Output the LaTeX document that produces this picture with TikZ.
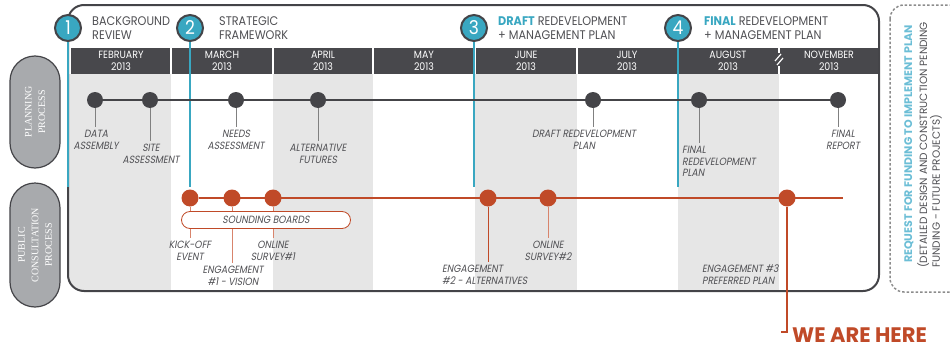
\documentclass[tikz,border=0pt]{standalone}
\usepackage{fontspec}
\setmainfont{Poppins}[FakeStretch=0.9]
\newfontfamily\eventFont{Poppins}[FakeStretch=0.88, FakeSlant=0.18]
\newfontfamily\wideFont{Poppins}
\newfontfamily\pillFont{Liberation Serif}
\usetikzlibrary{positioning}
\definecolor{headerColor}{RGB}{72,72,76}
\definecolor{shadeColor}{RGB}{230,230,230}
\definecolor{tealColor}{RGB}{57,167,193}
\definecolor{lightTeal}{RGB}{108,190,214}
\definecolor{orangeColor}{RGB}{192,74,40}
\definecolor{stemOrange}{RGB}{216,132,108}
\definecolor{textGray}{RGB}{80,80,84}
\definecolor{pillGray}{RGB}{168,170,173}
\definecolor{frameColor}{RGB}{68,68,72}
\definecolor{dashGray}{RGB}{140,140,140}
\tikzstyle{timeline} = [x = 1pt, y = -1pt]
\tikzstyle{frameLine} = [draw=frameColor, line width=2pt, rounded corners=16pt]
\tikzstyle{shadeColumn} = [fill=shadeColor]
\tikzstyle{monthText} = [text=white, font=\fontsize{10.5}{11.5}\selectfont, align=center, inner sep=0pt]
\tikzstyle{monthDivider} = [draw=white, line width=1.2pt]
\tikzstyle{milestoneCircle} = [circle, fill=tealColor, draw=frameColor, line width=2pt, minimum size=26pt, inner sep=0pt, text=white, font=\fontsize{19}{19}\selectfont]
\tikzstyle{milestoneLine} = [draw=tealColor, line width=2pt]
\tikzstyle{milestoneText} = [align=left, text=textGray, font=\fontsize{12.5}{13.5}\selectfont, inner sep=0pt]
\tikzstyle{planDot} = [circle, fill=frameColor, minimum size=16pt, inner sep=0pt]
\tikzstyle{planLine} = [draw=frameColor, line width=1.5pt]
\tikzstyle{planStem} = [draw=gray, line width=1pt]
\tikzstyle{eventText} = [align=center, text=textGray, font=\eventFont\fontsize{10.5}{12}\selectfont, inner xsep=0pt, inner ysep=3pt]
\tikzstyle{consultDot} = [circle, fill=orangeColor, minimum size=17pt, inner sep=0pt]
\tikzstyle{consultLine} = [draw=orangeColor, line width=1.5pt]
\tikzstyle{consultStem} = [draw=stemOrange, line width=1pt]
\tikzstyle{soundPill} = [draw=orangeColor, fill=white, line width=0.8pt, rounded corners=8.5pt, minimum width=169pt, minimum height=17pt, inner sep=0pt, text=textGray, font=\eventFont\fontsize{10.5}{12}\selectfont]
\tikzstyle{pillStyle} = [draw=frameColor, fill=pillGray, line width=1.2pt, rounded corners=25pt, minimum height=50pt, rotate=90, align=center, text=white, font=\pillFont\fontsize{10}{13.5}\selectfont]
\tikzstyle{dashBox} = [draw=dashGray, line width=1.5pt, dash pattern=on 2.5pt off 2pt, rounded corners=14pt]
\tikzstyle{hereLine} = [draw=orangeColor, line width=2.5pt]
\newcommand{\planningEvent}[5]{
  \node [planDot] (#1Dot) at (#2, 100) {};
  \node [eventText, anchor=north] (#1Text) at (#3, #4) {#5};
  \draw [planStem] (#1Dot) -- (#1Dot |- #1Text.north);
}
\newcommand{\consultEvent}[6]{
  \node [consultDot] (#1Dot) at (#2, 198) {};
  \node [eventText, #6] (#1Text) at (#3, #4) {#5};
  \draw [consultStem] (#1Dot) -- (#1Dot |- #1Text.north);
}
\newcommand{\milestone}[5]{
  \coordinate (#1End) at (#3, 187);
  \node [milestoneCircle] (#1) at (#3, 28) {#2};
  \draw [milestoneLine] (#1) -- (#1End);
  \node [milestoneText, right=#4 of #1] (#1Text) {#5};
}

\begin{document}
\begin{tikzpicture}[timeline]
  \useasboundingbox (0,0) rectangle (950,348);
  \begin{scope}
    \clip [rounded corners=16pt] (68,5) rectangle (879,291);
    \foreach \colStart/\colEnd in {68/171, 273/373, 475/577, 678/779}
      \fill [shadeColumn] (\colStart,74) rectangle (\colEnd,291);
  \end{scope}
  \fill [headerColor] (71,48) rectangle (879,74);
  \foreach \divider in {171,273,373,475,577,678,779}
    \draw [monthDivider] (\divider,48) -- (\divider,74);
  \fill [headerColor] (774,53) rectangle (784,66);
  \draw [monthDivider] (775,61) -- (781,54);
  \draw [monthDivider] (777,65) -- (783,58);
  \foreach \name/\month/\x in {feb/FEBRUARY/121, mar/MARCH/222, apr/APRIL/323, may/MAY/424, jun/JUNE/526, jul/JULY/627, aug/AUGUST/728, nov/NOVEMBER/829}
    \node [monthText] (\name) at (\x,61) {\month\\2013};
  \draw [frameLine] (68,5) rectangle (879,291);

  \node [pillStyle, minimum width=112pt] (planPill) at (35,112) {PLANNING\\PROCESS};
  \node [pillStyle, minimum width=124pt] (consultPill) at (35,245) {PUBLIC\\CONSULTATION\\PROCESS};

  \milestone{mOne}{1}{68}{10pt}{BACKGROUND\\REVIEW}
  \milestone{mTwo}{2}{190}{15pt}{STRATEGIC\\FRAMEWORK}
  \milestone{mThree}{3}{474}{10pt}{\textcolor{tealColor}{\bfseries DRAFT} REDEVELOPMENT\\+ MANAGEMENT PLAN}
  \milestone{mFour}{4}{678}{12pt}{\textcolor{tealColor}{\bfseries FINAL} REDEVELOPMENT\\+ MANAGEMENT PLAN}

  \planningEvent{data}{95}{96}{127}{DATA\\ASSEMBLY}
  \planningEvent{site}{150}{151}{141}{SITE\\ASSESSMENT}
  \planningEvent{needs}{236}{236}{127}{NEEDS\\ASSESSMENT}
  \planningEvent{alt}{318}{318}{141}{ALTERNATIVE\\FUTURES}
  \planningEvent{draft}{593}{584}{127}{DRAFT REDEVELOPMENT\\PLAN}
  \node [planDot] (finalDot) at (699,100) {};
  \node [eventText, anchor=north west, align=left, font=\eventFont\fontsize{10.5}{11.5}\selectfont] (finalText) at (682,143) {FINAL\\REDEVELOPMENT\\PLAN};
  \draw [planStem] (finalDot) -- (finalDot |- finalText.north);
  \planningEvent{report}{838}{843}{127}{FINAL\\REPORT}
  \draw [planLine] (dataDot) -- (reportDot);

  \coordinate (consultEnd) at (843,198);
  \consultEvent{kick}{190}{190}{238}{KICK-OFF\\EVENT}{anchor=north}
  \consultEvent{engOne}{232}{233}{263}{ENGAGEMENT\\\#1 - VISION}{anchor=north}
  \consultEvent{surveyOne}{273}{273}{238}{ONLINE\\SURVEY\#1}{anchor=north}
  \consultEvent{engTwo}{488}{442}{262}{ENGAGEMENT\\\#2 - ALTERNATIVES}{anchor=north west, align=left}
  \consultEvent{surveyTwo}{548}{548}{238}{ONLINE\\SURVEY\#2}{anchor=north}
  \draw [consultStem, draw=orangeColor] (engTwoDot) -- (engTwoDot |- engTwoText.north);
  \node [consultDot] (hereDot) at (787,198) {};
  \node [eventText, anchor=north west, align=left] (engThreeText) at (702,262) {ENGAGEMENT \#3\\PREFERRED PLAN};
  \draw [consultLine] (kickDot) -- (consultEnd);
  \node [soundPill] (sounding) at (266,220) {SOUNDING BOARDS};

  \coordinate (hereTick) at (781,332);
  \draw [hereLine] (hereDot) -- (hereDot |- hereTick) -- (hereTick);
  \node [anchor=base west, inner sep=0pt, text=orangeColor, font=\wideFont\bfseries\fontsize{21}{21}\selectfont] (hereText) at (792,342) {WE ARE HERE};

  \draw [dashBox] (890,5) rectangle (972,292);
  \node [rotate=90, anchor=base west, inner sep=0pt, text=lightTeal, font=\wideFont\bfseries\fontsize{11}{12}\selectfont] (requestText) at (912,263) {REQUEST FOR FUNDING TO IMPLEMENT PLAN};
  \node [rotate=90, anchor=north west, inner sep=0pt, align=left, text=textGray, font=\wideFont\fontsize{10.5}{11.5}\selectfont] (detailText) at (917,268) {(DETAILED DESIGN AND CONSTRUCTION PENDING\\FUNDING - FUTURE PROJECTS)};
\end{tikzpicture}
\end{document}
